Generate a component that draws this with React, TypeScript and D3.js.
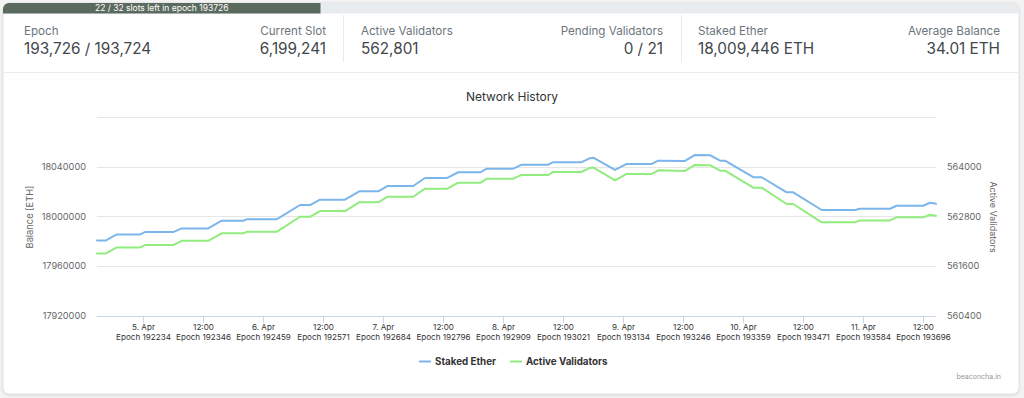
import React from "react";
import * as d3 from "d3";

// ---- Header stats ----
const statLabels = ["Epoch", "Current Slot", "Active Validators", "Pending Validators", "Staked Ether", "Average Balance"];
const statValues = ["193,726 / 193,724", "6,199,241", "562,801", "0 / 21", "18,009,446 ETH", "34.01 ETH"];
const progressText = "22 / 32 slots left in epoch 193726";
const progressFraction = 10 / 32;

// ---- Chart data ----
const times = [
  "2023-04-04T14:52", "2023-04-04T16:40", "2023-04-04T18:48", "2023-04-04T23:28", "2023-04-05T00:28",
  "2023-04-05T06:07", "2023-04-05T07:48", "2023-04-05T13:07", "2023-04-05T15:48", "2023-04-05T20:07",
  "2023-04-05T20:48", "2023-04-06T02:48", "2023-04-06T07:28", "2023-04-06T09:28", "2023-04-06T11:28",
  "2023-04-06T16:28", "2023-04-06T19:19", "2023-04-06T23:07", "2023-04-07T01:00", "2023-04-07T06:07",
  "2023-04-07T08:28", "2023-04-07T12:55", "2023-04-07T15:07", "2023-04-07T19:36", "2023-04-07T20:48",
  "2023-04-08T02:07", "2023-04-08T03:48", "2023-04-08T09:07", "2023-04-08T10:07", "2023-04-08T15:48",
  "2023-04-08T17:28", "2023-04-08T18:07", "2023-04-08T22:28", "2023-04-09T00:48", "2023-04-09T05:48",
  "2023-04-09T07:07", "2023-04-09T12:28", "2023-04-09T14:28", "2023-04-09T17:28", "2023-04-09T19:28",
  "2023-04-09T20:28", "2023-04-10T02:07", "2023-04-10T03:48", "2023-04-10T08:48", "2023-04-10T10:07",
  "2023-04-10T15:48", "2023-04-10T22:28", "2023-04-10T23:28", "2023-04-11T05:28", "2023-04-11T06:48",
  "2023-04-11T12:07", "2023-04-11T13:28", "2023-04-11T14:40",
];

const stakedEther = [
  17980700, 17980700, 17985500, 17985500, 17987400,
  17987400, 17990300, 17990300, 17996500, 17996500,
  17997600, 17997600, 18009100, 18009100, 18013400,
  18013400, 18020100, 18020100, 18024400, 18024400,
  18030800, 18030800, 18035400, 18035400, 18038300,
  18038300, 18041500, 18041500, 18043500, 18043500,
  18046700, 18047100, 18037300, 18042100, 18042100,
  18044700, 18044500, 18049300, 18049100, 18044700,
  18044700, 18031400, 18031400, 18019300, 18019300,
  18005100, 18005100, 18006100, 18006100, 18008500,
  18008500, 18010900, 18010100,
];

const activeValidators = [
  561907, 561907, 562052, 562052, 562107,
  562107, 562211, 562211, 562390, 562390,
  562428, 562428, 562790, 562790, 562928,
  562928, 563138, 563138, 563273, 563273,
  563466, 563466, 563611, 563611, 563708,
  563708, 563797, 563797, 563869, 563869,
  563966, 563978, 563669, 563821, 563821,
  563910, 563894, 564038, 564031, 563901,
  563901, 563490, 563490, 563097, 563097,
  562655, 562655, 562703, 562703, 562776,
  562776, 562839, 562814,
];

const xTickTimes = [
  "2023-04-05T00:00", "2023-04-05T12:00", "2023-04-06T00:00", "2023-04-06T12:00",
  "2023-04-07T00:00", "2023-04-07T12:00", "2023-04-08T00:00", "2023-04-08T12:00",
  "2023-04-09T00:00", "2023-04-09T12:00", "2023-04-10T00:00", "2023-04-10T12:00",
  "2023-04-11T00:00", "2023-04-11T12:00",
];
const xTickLabels = ["5. Apr", "12:00", "6. Apr", "12:00", "7. Apr", "12:00", "8. Apr", "12:00", "9. Apr", "12:00", "10. Apr", "12:00", "11. Apr", "12:00"];
const epochLabels = ["192234", "192346", "192459", "192571", "192684", "192796", "192909", "193021", "193134", "193246", "193359", "193471", "193584", "193696"];

const leftTicks = [17920000, 17960000, 18000000, 18040000, 18080000];
const rightTicks = [560400, 561600, 562800, 564000, 565200];
const seriesNames = ["Staked Ether", "Active Validators"];

const FONT = "Inter, 'Noto Sans', sans-serif";
const BLUE = "#7cb5ec";
const GREEN = "#90ed7d";

export default function App() {
  const W = 1024, H = 398;
  const parse = d3.timeParse("%Y-%m-%dT%H:%M");
  const dates = times.map((t) => parse(t) as Date);
  const plotL = 97, plotR = 936, plotT = 116.7, plotB = 316;

  const x = d3.scaleTime().domain([dates[0], dates[dates.length - 1]]).range([plotL, plotR]);
  const yL = d3.scaleLinear().domain([17920000, 18080000]).range([plotB, plotT]);
  const yR = d3.scaleLinear().domain([560400, 565200]).range([plotB, plotT]);

  const lineL = d3.line<number>().x((_, i) => x(dates[i])).y((v) => yL(v));
  const lineR = d3.line<number>().x((_, i) => x(dates[i])).y((v) => yR(v));

  const statCols = [
    { x: 24, anchor: "start" },
    { x: 326, anchor: "end" },
    { x: 361, anchor: "start" },
    { x: 663, anchor: "end" },
    { x: 698, anchor: "start" },
    { x: 1000, anchor: "end" },
  ];

  const cardL = 3, cardR = 1019, cardT = 3, cardB = 394;
  const barH = 10.5;
  const barSplit = cardL + (cardR - cardL) * progressFraction;

  return (
    <svg width={W} height={H} style={{ position: "absolute", left: 0, top: 0, fontFamily: FONT }}>
      <defs>
        <clipPath id="cardClip">
          <rect x={cardL} y={cardT} width={cardR - cardL} height={cardB - cardT} rx={6} />
        </clipPath>
        <filter id="sh" x="-5%" y="-5%" width="110%" height="110%">
          <feDropShadow dx="0" dy="1" stdDeviation="1.2" floodColor="#000" floodOpacity="0.12" />
        </filter>
      </defs>
      <rect x={0} y={0} width={W} height={H} fill="#f3f3f4" />
      <rect x={cardL} y={cardT} width={cardR - cardL} height={cardB - cardT} rx={6} fill="#fff" stroke="#e2e2e2" filter="url(#sh)" />
      <g clipPath="url(#cardClip)">
        <rect x={cardL} y={cardT} width={cardR - cardL} height={barH} fill="#e9ecef" />
        <rect x={cardL} y={cardT} width={barSplit - cardL} height={barH} fill="#5b6a5e" />
      </g>
      <text x={(cardL + barSplit) / 2} y={cardT + barH / 2 + 3} textAnchor="middle" fontSize={8.5} fill="#fff">{progressText}</text>

      {/* Header stats */}
      {statLabels.map((l, i) => (
        <g key={l}>
          <text x={statCols[i].x} y={35} textAnchor={statCols[i].anchor as any} fontSize={11.6} fill="#6c757d">{l}</text>
          <text x={statCols[i].x} y={54} textAnchor={statCols[i].anchor as any} fontSize={15.3} fill="#42474b">{statValues[i]}</text>
        </g>
      ))}
      <line x1={343.5} x2={343.5} y1={15} y2={62} stroke="#e9ecef" />
      <line x1={681.5} x2={681.5} y1={15} y2={62} stroke="#e9ecef" />
      <line x1={cardL} x2={cardR} y1={72.5} y2={72.5} stroke="#e9ecef" />

      {/* Chart title */}
      <text x={512} y={101} textAnchor="middle" fontSize={12} fill="#333">Network History</text>

      {/* Grid */}
      {leftTicks.map((t) => (
        <line key={t} x1={plotL} x2={plotR} y1={Math.round(yL(t)) + 0.5} y2={Math.round(yL(t)) + 0.5} stroke="#e6e6e6" />
      ))}
      {leftTicks.slice(0, 4).map((t) => (
        <text key={"l" + t} x={86} y={yL(t) + 3.3} textAnchor="end" fontSize={9.2} fill="#666">{t}</text>
      ))}
      {rightTicks.slice(0, 4).map((t) => (
        <text key={"r" + t} x={947} y={yR(t) + 3.3} textAnchor="start" fontSize={9.2} fill="#666">{t}</text>
      ))}
      <text transform={`translate(33,217) rotate(-90)`} textAnchor="middle" fontSize={9.3} fill="#666">Balance [ETH]</text>
      <text transform={`translate(990,217) rotate(90)`} textAnchor="middle" fontSize={9} fill="#666">Active Validators</text>

      {/* X axis */}
      <line x1={plotL} x2={plotR} y1={plotB + 0.5} y2={plotB + 0.5} stroke="#ccd6eb" />
      {xTickTimes.map((t, i) => {
        const xx = Math.round(x(parse(t) as Date)) + 0.5;
        return (
          <g key={t}>
            <line x1={xx} x2={xx} y1={plotB} y2={plotB + 7} stroke="#ccd6eb" />
            <text x={xx} y={330} textAnchor="middle" fontSize={8.1} fill="#333">{xTickLabels[i]}</text>
            <text x={xx} y={340} textAnchor="middle" fontSize={8.1} fill="#333">{"Epoch " + epochLabels[i]}</text>
          </g>
        );
      })}

      {/* Lines */}
      <path d={lineL(stakedEther) || ""} fill="none" stroke={BLUE} strokeWidth={2} strokeLinejoin="round" strokeLinecap="round" />
      <path d={lineR(activeValidators) || ""} fill="none" stroke={GREEN} strokeWidth={2} strokeLinejoin="round" strokeLinecap="round" />

      {/* Legend */}
      <line x1={419} x2={431} y1={361.5} y2={361.5} stroke={BLUE} strokeWidth={2} />
      <text x={435} y={365} fontSize={9.8} fontWeight="bold" fill="#333">{seriesNames[0]}</text>
      <line x1={510} x2={522} y1={361.5} y2={361.5} stroke={GREEN} strokeWidth={2} />
      <text x={526} y={365} fontSize={9.8} fontWeight="bold" fill="#333">{seriesNames[1]}</text>

      <text x={1001} y={379} textAnchor="end" fontSize={7} fill="#999">beaconcha.in</text>
    </svg>
  );
}
